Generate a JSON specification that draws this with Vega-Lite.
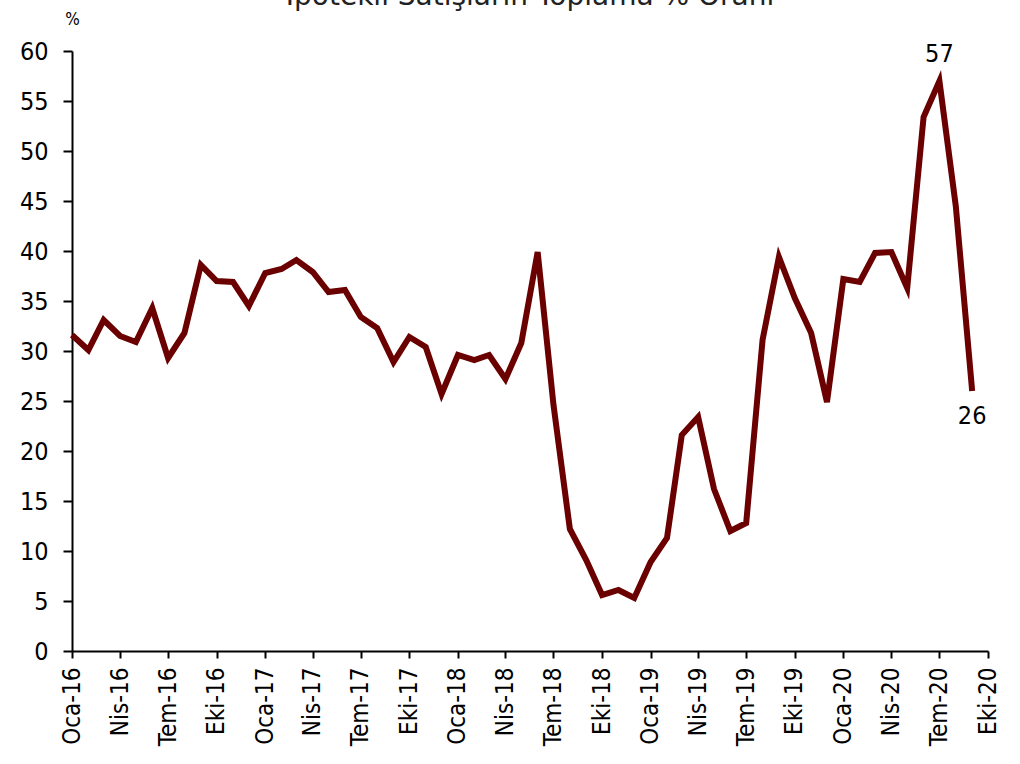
{
  "$schema": "https://vega.github.io/schema/vega-lite/v6.json",
  "width": 916,
  "height": 600,
  "autosize": {"type": "none"},
  "padding": {"left": 72, "top": 51, "right": 32, "bottom": 113},
  "background": "white",
  "title": {
    "text": "İpotekli Satışların Toplama % Oranı",
    "anchor": "middle",
    "frame": "group",
    "font": "DejaVu Sans",
    "fontSize": 28,
    "fontWeight": "normal",
    "color": "#222222",
    "baseline": "alphabetic",
    "offset": 0,
    "dy": 23
  },
  "config": {
    "view": {"stroke": null},
    "axis": {"grid": false, "domainColor": "black", "tickColor": "black", "labelColor": "black", "titleColor": "black"}
  },
  "data": {
    "values": [
      {"date": "2016-01-01", "value": 31.6},
      {"date": "2016-02-01", "value": 30.1},
      {"date": "2016-03-01", "value": 33.1},
      {"date": "2016-04-01", "value": 31.5},
      {"date": "2016-05-01", "value": 30.9},
      {"date": "2016-06-01", "value": 34.3},
      {"date": "2016-07-01", "value": 29.3},
      {"date": "2016-08-01", "value": 31.8},
      {"date": "2016-09-01", "value": 38.6},
      {"date": "2016-10-01", "value": 37.0},
      {"date": "2016-11-01", "value": 36.9},
      {"date": "2016-12-01", "value": 34.5},
      {"date": "2017-01-01", "value": 37.8},
      {"date": "2017-02-01", "value": 38.2},
      {"date": "2017-03-01", "value": 39.1},
      {"date": "2017-04-01", "value": 37.9},
      {"date": "2017-05-01", "value": 35.9},
      {"date": "2017-06-01", "value": 36.1},
      {"date": "2017-07-01", "value": 33.4},
      {"date": "2017-08-01", "value": 32.3},
      {"date": "2017-09-01", "value": 28.9},
      {"date": "2017-10-01", "value": 31.4},
      {"date": "2017-11-01", "value": 30.4},
      {"date": "2017-12-01", "value": 25.7},
      {"date": "2018-01-01", "value": 29.6},
      {"date": "2018-02-01", "value": 29.1},
      {"date": "2018-03-01", "value": 29.6},
      {"date": "2018-04-01", "value": 27.2},
      {"date": "2018-05-01", "value": 30.8},
      {"date": "2018-06-01", "value": 39.9},
      {"date": "2018-07-01", "value": 24.6},
      {"date": "2018-08-01", "value": 12.2},
      {"date": "2018-09-01", "value": 9.1},
      {"date": "2018-10-01", "value": 5.6},
      {"date": "2018-11-01", "value": 6.1},
      {"date": "2018-12-01", "value": 5.3},
      {"date": "2019-01-01", "value": 8.9},
      {"date": "2019-02-01", "value": 11.3},
      {"date": "2019-03-01", "value": 21.6},
      {"date": "2019-04-01", "value": 23.4},
      {"date": "2019-05-01", "value": 16.2},
      {"date": "2019-06-01", "value": 12.0},
      {"date": "2019-07-01", "value": 12.8},
      {"date": "2019-08-01", "value": 31.1},
      {"date": "2019-09-01", "value": 39.4},
      {"date": "2019-10-01", "value": 35.3},
      {"date": "2019-11-01", "value": 31.8},
      {"date": "2019-12-01", "value": 24.9},
      {"date": "2020-01-01", "value": 37.2},
      {"date": "2020-02-01", "value": 36.9},
      {"date": "2020-03-01", "value": 39.8},
      {"date": "2020-04-01", "value": 39.9},
      {"date": "2020-05-01", "value": 36.3},
      {"date": "2020-06-01", "value": 53.4},
      {"date": "2020-07-01", "value": 57.0, "label": "57", "pos": "above"},
      {"date": "2020-08-01", "value": 44.5},
      {"date": "2020-09-01", "value": 26.0, "label": "26", "pos": "below"}
    ]
  },
  "encoding": {
    "x": {
      "field": "date",
      "type": "temporal",
      "scale": {"type": "utc", "domain": [{"year": 2016, "month": 1, "date": 1, "utc": true}, {"year": 2020, "month": 10, "date": 1, "utc": true}], "nice": false},
      "axis": {
        "title": null,
        "tickCount": {"interval": "month", "step": 3},
        "labelExpr": "['Oca','Şub','Mar','Nis','May','Haz','Tem','Ağu','Eyl','Eki','Kas','Ara'][utcmonth(datum.value)] + '-' + utcFormat(datum.value, '%y')",
        "labelAngle": -90,
        "labelAlign": "right",
        "labelBaseline": "middle",
        "labelFlush": false,
        "labelOverlap": false,
        "labelFont": "DejaVu Sans Condensed",
        "labelFontSize": 24,
        "labelPadding": 9,
        "tickSize": 7,
        "tickWidth": 2,
        "domainWidth": 2
      }
    },
    "y": {
      "field": "value",
      "type": "quantitative",
      "scale": {"domain": [0, 60], "nice": false},
      "axis": {
        "title": "%",
        "titleAngle": 0,
        "titleAlign": "center",
        "titleBaseline": "alphabetic",
        "titleX": 0,
        "titleY": -27,
        "titleFont": "DejaVu Sans Condensed",
        "titleFontSize": 17,
        "titleFontWeight": "normal",
        "values": [0, 5, 10, 15, 20, 25, 30, 35, 40, 45, 50, 55, 60],
        "labelFont": "DejaVu Sans Condensed",
        "labelFontSize": 25,
        "labelPadding": 15,
        "tickSize": 9,
        "tickWidth": 2,
        "domainWidth": 2
      }
    }
  },
  "layer": [
    {
      "mark": {"type": "line", "color": "#6a0000", "strokeWidth": 6, "strokeJoin": "miter", "strokeCap": "butt"}
    },
    {
      "transform": [{"filter": "datum.pos == 'above'"}],
      "mark": {"type": "text", "dy": -27, "font": "DejaVu Sans Condensed", "fontSize": 25, "color": "black"},
      "encoding": {"text": {"field": "label"}}
    },
    {
      "transform": [{"filter": "datum.pos == 'below'"}],
      "mark": {"type": "text", "dy": 25, "font": "DejaVu Sans Condensed", "fontSize": 25, "color": "black"},
      "encoding": {"text": {"field": "label"}}
    }
  ]
}
